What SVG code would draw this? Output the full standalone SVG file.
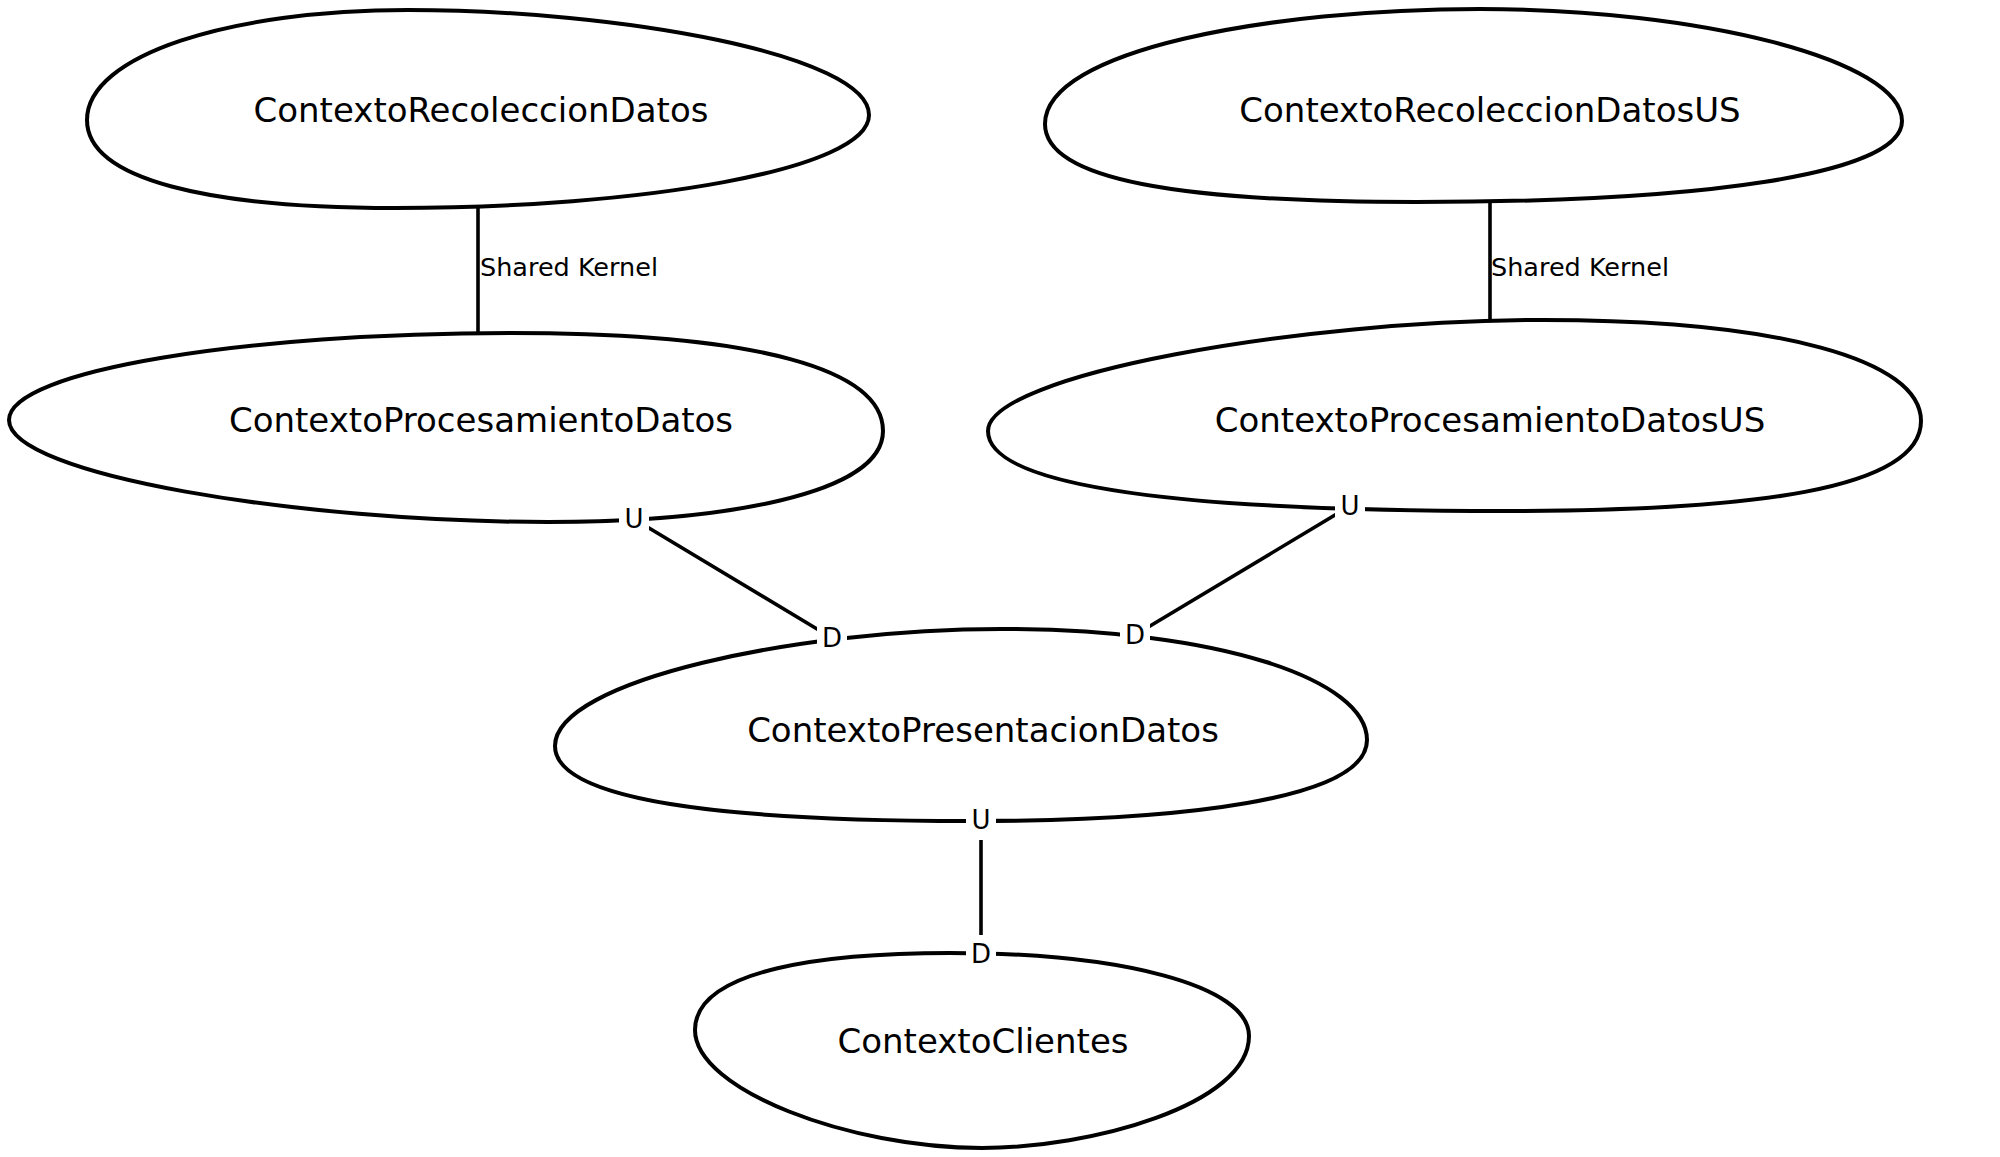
<svg xmlns="http://www.w3.org/2000/svg" width="2000" height="1157" viewBox="0 0 2000 1157">
<style>
.node{fill:#fff;stroke:#000;stroke-width:4}
.edge{stroke:#000;stroke-width:3.6;fill:none}
.nt{font-family:"DejaVu Sans",sans-serif;font-size:34px;text-anchor:middle;fill:#000}
.el{font-family:"DejaVu Sans",sans-serif;font-size:25.5px;fill:#000}
.ud{font-family:"DejaVu Sans",sans-serif;font-size:26px;text-anchor:middle;fill:#000}
.bg{fill:#fff}
</style>
<rect width="2000" height="1157" fill="#fff"/>
<g id="nodes">
<g id="ContextoRecoleccionDatos">
<path class="node" d="M87,120 C87,55 230,10 408,10 C620,10 869,55 869,115 C869,170 640,208 395,208 C210,208 87,180 87,120 Z"/>
<text class="nt" x="481" y="122">ContextoRecoleccionDatos</text>
</g>
<g id="ContextoProcesamientoDatos">
<path class="node" d="M9,420 C9,370 250,333 510,333 C760,333 883,370 883,431 C883,495 720,522 548,522 C300,522 9,475 9,420 Z"/>
<text class="nt" x="481" y="432">ContextoProcesamientoDatos</text>
</g>
<g id="ContextoRecoleccionDatosUS">
<path class="node" d="M1045,124 C1045,50 1270,9 1480,9 C1700,9 1902,60 1902,121 C1902,175 1700,202 1416,202 C1180,202 1045,180 1045,124 Z"/>
<text class="nt" x="1490" y="122">ContextoRecoleccionDatosUS</text>
</g>
<g id="ContextoProcesamientoDatosUS">
<path class="node" d="M988,431 C988,375 1300,320 1543,320 C1780,320 1921,360 1921,421 C1921,490 1750,511 1505,511 C1200,511 988,490 988,431 Z"/>
<text class="nt" x="1490" y="432">ContextoProcesamientoDatosUS</text>
</g>
<g id="ContextoPresentacionDatos">
<path class="node" d="M555,746 C555,680 800,629 1001,629 C1220,629 1367,680 1367,740 C1367,800 1180,821 969,821 C720,821 555,800 555,746 Z"/>
<text class="nt" x="983" y="742">ContextoPresentacionDatos</text>
</g>
<g id="ContextoClientes">
<path class="node" d="M695,1030 C695,968 830,953 950,953 C1120,953 1249,985 1249,1036 C1249,1105 1090,1148 982,1148 C850,1148 695,1090 695,1030 Z"/>
<text class="nt" x="983" y="1053">ContextoClientes</text>
</g>
</g>
<g id="connectors">
<line class="edge" x1="478" y1="208" x2="478" y2="334"/>
<text class="el" x="480" y="276">Shared Kernel</text>
<line class="edge" x1="1490" y1="202" x2="1490" y2="321"/>
<text class="el" x="1491" y="276">Shared Kernel</text>
<line class="edge" x1="634" y1="519" x2="832" y2="638"/>
<line class="edge" x1="1350" y1="506" x2="1135" y2="635"/>
<line class="edge" x1="981" y1="820" x2="981" y2="954"/>
<rect class="bg" x="619" y="501" width="30" height="36"/>
<text class="ud" x="634" y="528">U</text>
<rect class="bg" x="817" y="620" width="30" height="36"/>
<text class="ud" x="832" y="647">D</text>
<rect class="bg" x="1335" y="488" width="30" height="36"/>
<text class="ud" x="1350" y="515">U</text>
<rect class="bg" x="1120" y="617" width="30" height="36"/>
<text class="ud" x="1135" y="644">D</text>
<rect class="bg" x="966" y="800" width="30" height="40"/>
<text class="ud" x="981" y="829">U</text>
<rect class="bg" x="966" y="935" width="30" height="38"/>
<text class="ud" x="981" y="963">D</text>
</g>
</svg>
